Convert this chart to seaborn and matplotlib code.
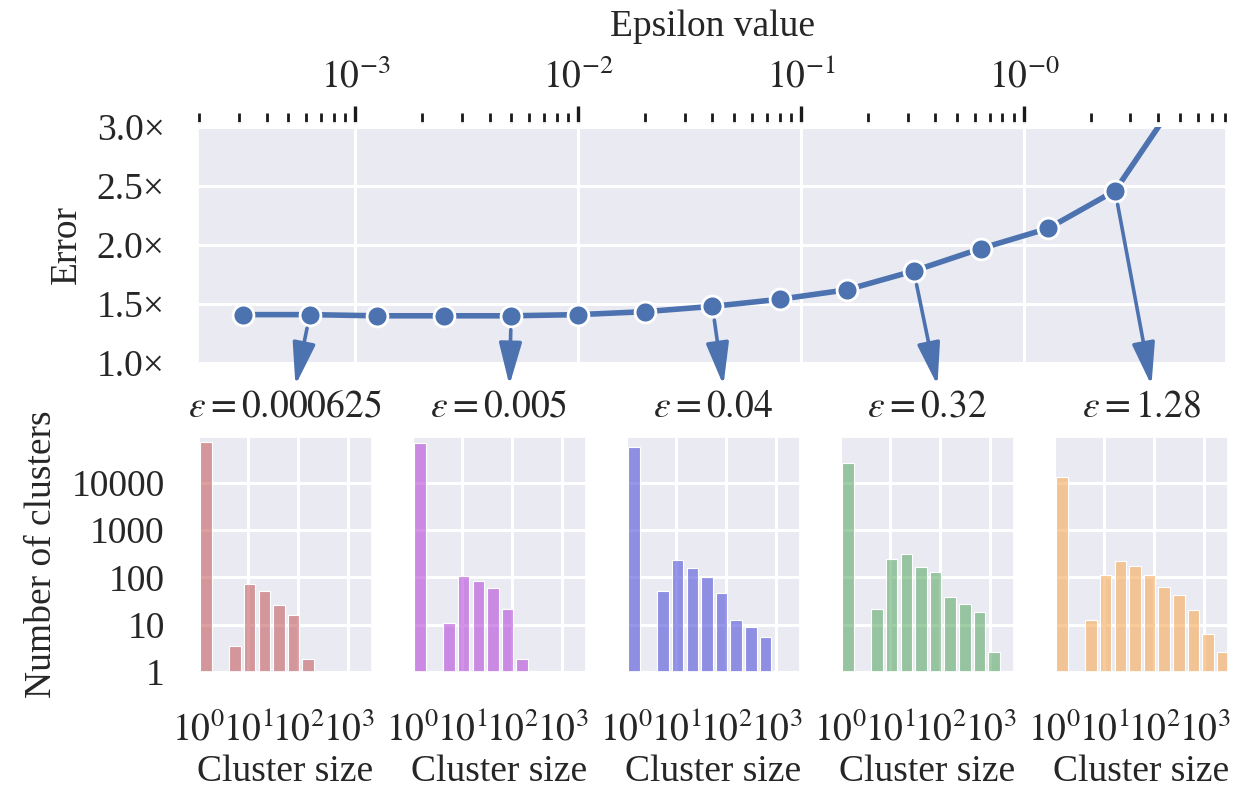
import numpy as np
import pandas as pd
import matplotlib
matplotlib.use("Agg")
import matplotlib.pyplot as plt
import seaborn as sns
from matplotlib.patches import ConnectionPatch
from matplotlib.ticker import FixedLocator, FixedFormatter, LogLocator, NullFormatter, NullLocator

# ---------------- data ----------------
eps_values = [0.0003125, 0.000625, 0.00125, 0.0025, 0.005, 0.01, 0.02,
              0.04, 0.08, 0.16, 0.32, 0.64, 1.28, 2.56, 5.12]
error_values = [1.41, 1.41, 1.40, 1.40, 1.40, 1.41, 1.435,
                1.48, 1.54, 1.62, 1.78, 1.97, 2.14, 2.46, 3.30]

top_tick_values = [1e-3, 1e-2, 1e-1, 1e0]
top_tick_labels = [r"$10^{-3}$", r"$10^{-2}$", r"$10^{-1}$", r"$10^{-0}$"]
error_ticks = [1.0, 1.5, 2.0, 2.5, 3.0]

panel_labels = ["0.000625", "0.005", "0.04", "0.32", "1.28"]
arrow_sources = [0.000625, 0.005, 0.04, 0.32, 2.56]

# cluster-size bins (12 log-spaced bins from 1 to 10^3.5)
size_edges = np.logspace(0, 3.5, 13)
size_centers = np.sqrt(size_edges[:-1] * size_edges[1:])

counts_0000625 = [74600, 0, 3.6, 72, 52, 26, 16, 1.85, 0, 0, 0, 0]
counts_0005 = [71100, 0, 10.8, 106, 86, 59, 21, 1.85, 0, 0, 0, 0]
counts_004 = [55800, 0, 52, 230, 156, 104, 46, 12.5, 9.1, 5.4, 0, 0]
counts_032 = [25800, 0, 22, 249, 318, 164, 127, 38, 28, 18.4, 2.7, 0]
counts_128 = [13150, 0, 12.5, 115, 222, 171, 111, 64, 42, 20, 6.3, 2.7]
all_counts = [counts_0000625, counts_0005, counts_004, counts_032, counts_128]

count_ticks = [1, 10, 100, 1000, 10000]
count_labels = ["1", "10", "100", "1000", "10000"]
size_ticks = [1, 10, 100, 1000]
size_labels = [r"$10^{0}$", r"$10^{1}$", r"$10^{2}$", r"$10^{3}$"]

hist_colors = ["#C55E61", "#B64AD9", "#5151D9", "#61AC6A", "#F7A957"]
line_color = "#4C72B0"

# ---------------- style ----------------
sns.set_theme(style="darkgrid")
plt.rcParams["font.family"] = ["Liberation Serif", "DejaVu Serif"]
plt.rcParams["mathtext.fontset"] = "stix"
FS = 27
plt.rcParams["font.size"] = FS

W, H = 1248, 790
fig = plt.figure(figsize=(W / 100, H / 100), dpi=100)

# ---------------- top panel ----------------
ax = fig.add_axes([198 / W, 1 - 363 / H, 1028 / W, 236 / H])
ax.set_xscale("log")
sns.lineplot(x=eps_values, y=error_values, ax=ax, color=line_color,
             linewidth=4.0, marker="o", markersize=15,
             markeredgecolor="white", markeredgewidth=2.0)
ax.set_xlim(1.97e-4, 8.05)
ax.set_ylim(1.0, 3.0)
ax.xaxis.tick_top()
ax.xaxis.set_label_position("top")
ax.xaxis.set_major_locator(FixedLocator(top_tick_values))
ax.xaxis.set_major_formatter(FixedFormatter(top_tick_labels))
ax.xaxis.set_minor_locator(LogLocator(base=10, subs=np.arange(2, 10), numticks=100))
ax.xaxis.set_minor_formatter(NullFormatter())
ax.tick_params(axis="x", which="major", top=True, bottom=False, length=12,
               width=2.4, color="#1a1a1a", pad=8, labelsize=FS, direction="out")
ax.tick_params(axis="x", which="minor", top=True, bottom=False, length=7,
               width=2.0, color="#1a1a1a", direction="out")
ax.spines["top"].set_position(("outward", 3))
ax.set_yticks(error_ticks)
ax.set_yticklabels([f"{v:.1f}×" for v in error_ticks])
ax.tick_params(axis="y", length=0, pad=24, labelsize=FS)
ax.grid(which="minor", visible=False)
ax.grid(which="major", color="white", linewidth=2.2)
ax.set_xlabel("Epsilon value", fontsize=FS, labelpad=16)
ax.set_ylabel("Error", fontsize=FS, labelpad=9)

# ---------------- bottom panels ----------------
axes_b = []
step = size_edges[1] / size_edges[0]
xlo = size_edges[0] * 0.995
xhi = size_edges[-1] / step ** 0.1
log_bins = list(np.log10(size_edges))
for i, counts in enumerate(all_counts):
    left = (198 + 214 * i) / W
    kw = {}
    if axes_b:
        kw = dict(sharex=axes_b[0], sharey=axes_b[0])
    axb = fig.add_axes([left, 1 - 672 / H, 174 / W, 235 / H], **kw)
    df = pd.DataFrame({"size": size_centers, "count": counts})
    sns.histplot(data=df, x="size", weights="count", bins=log_bins,
                 log_scale=True, shrink=0.8, color=hist_colors[i],
                 alpha=0.6, edgecolor="white", linewidth=0.8, ax=axb)
    axes_b.append(axb)

a0 = axes_b[0]
a0.set_yscale("log")
a0.set_xlim(xlo, xhi)
a0.set_ylim(1, 9.3e4)
a0.xaxis.set_major_locator(FixedLocator(size_ticks))
a0.xaxis.set_major_formatter(FixedFormatter(size_labels))
a0.xaxis.set_minor_locator(NullLocator())
a0.yaxis.set_major_locator(FixedLocator(count_ticks))
a0.yaxis.set_major_formatter(FixedFormatter(count_labels))
a0.yaxis.set_minor_locator(NullLocator())

for i, axb in enumerate(axes_b):
    axb.grid(which="major", color="white", linewidth=2.2)
    axb.tick_params(axis="x", length=0, pad=29, labelsize=FS)
    axb.tick_params(axis="y", length=0, pad=24, labelsize=FS, labelleft=(i == 0))
    axb.set_xlabel("Cluster size", fontsize=FS, labelpad=4)
    axb.set_ylabel("Number of clusters" if i == 0 else "", fontsize=FS, labelpad=9)
    axb.set_title(f"$\\varepsilon={panel_labels[i]}$", fontsize=FS, pad=15)

# ---------------- arrows ----------------
for i, src in enumerate(arrow_sources):
    yv = error_values[eps_values.index(src)]
    con = ConnectionPatch(xyA=(src, yv), coordsA=ax.transData,
                          xyB=(0.56, 1.22), coordsB=axes_b[i].transAxes,
                          arrowstyle="-|>,head_length=1.3,head_width=0.35",
                          mutation_scale=20, color=line_color, lw=2.6,
                          shrinkA=10, shrinkB=0)
    fig.add_artist(con)

fig.savefig("out.png", dpi=100)
